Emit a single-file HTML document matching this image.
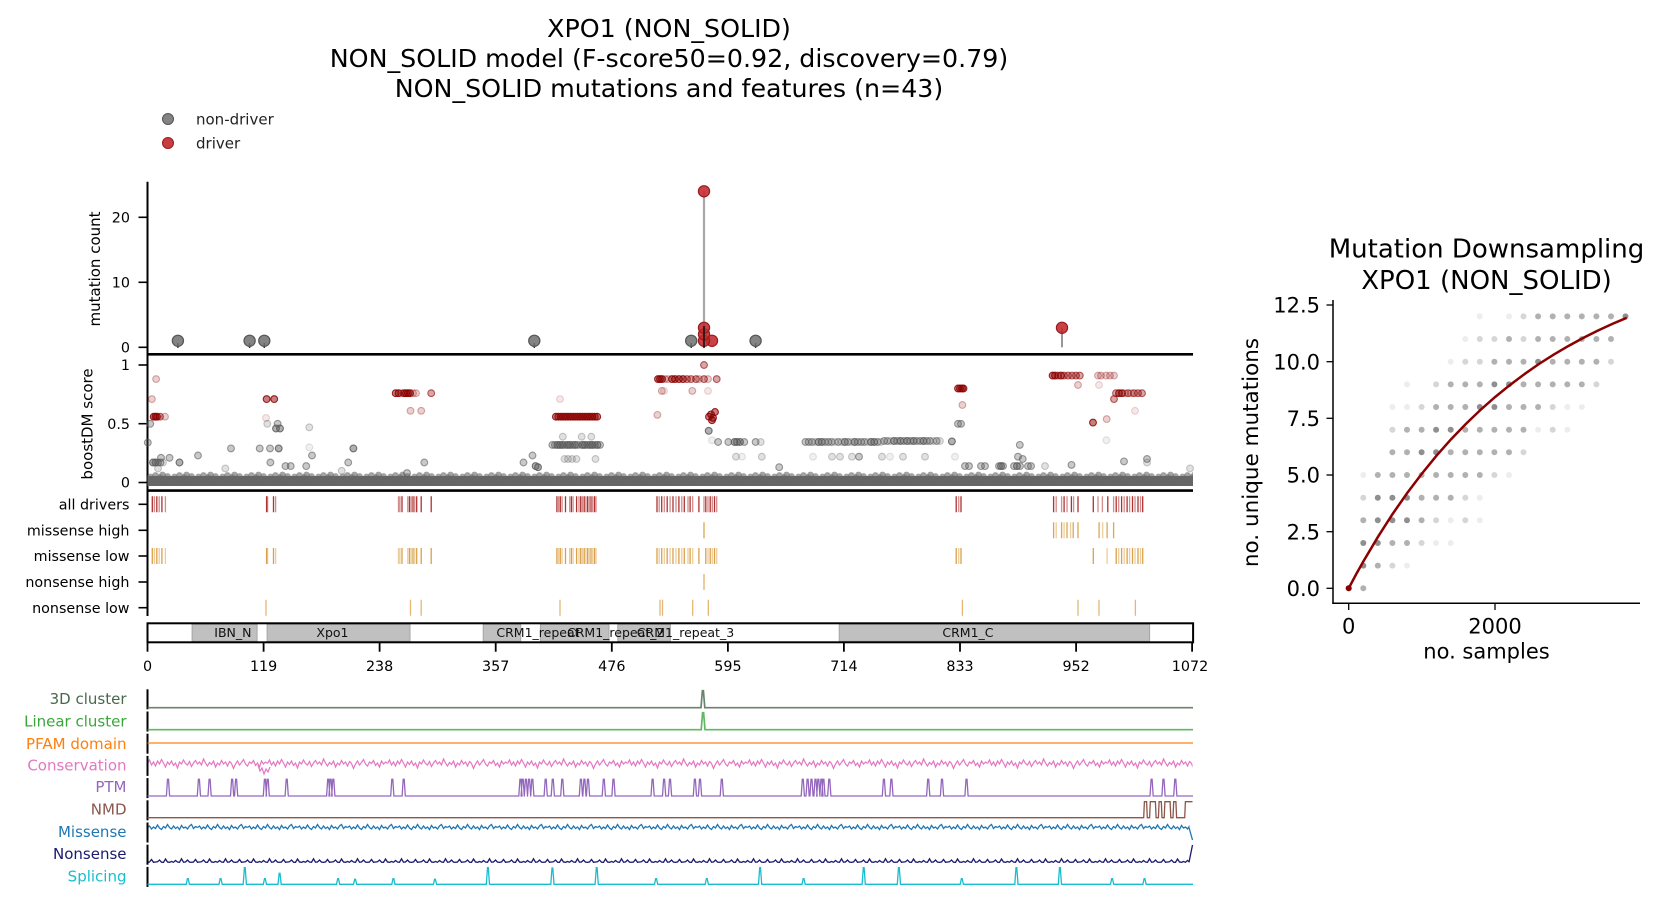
<!DOCTYPE html>
<html><head><meta charset="utf-8">
<style>
html,body{margin:0;padding:0;background:#fff;}
svg{display:block;font-family:"DejaVu Sans","Liberation Sans",sans-serif;}
.gd{fill:#5a5a5a;fill-opacity:.47;stroke:#5a5a5a;stroke-opacity:.85;stroke-width:1.1}
.gm{fill:#5a5a5a;fill-opacity:.33;stroke:#5a5a5a;stroke-opacity:.6;stroke-width:1.1}
.gl{fill:#5a5a5a;fill-opacity:.18;stroke:#5a5a5a;stroke-opacity:.32;stroke-width:1.1}
.gv{fill:#5a5a5a;fill-opacity:.09;stroke:#5a5a5a;stroke-opacity:.16;stroke-width:1.1}
.rd{fill:#8b0000;fill-opacity:.5;stroke:#8b0000;stroke-opacity:.85;stroke-width:1.1}
.rm{fill:#8b0000;fill-opacity:.35;stroke:#8b0000;stroke-opacity:.6;stroke-width:1.1}
.rl{fill:#8b0000;fill-opacity:.18;stroke:#8b0000;stroke-opacity:.32;stroke-width:1.1}
.rv{fill:#8b0000;fill-opacity:.09;stroke:#8b0000;stroke-opacity:.16;stroke-width:1.1}
.dd{fill:#333;fill-opacity:.55}
.dm{fill:#333;fill-opacity:.38}
.dl{fill:#333;fill-opacity:.2}
.dv{fill:#333;fill-opacity:.09}
</style></head>
<body>
<svg width="1659" height="906" viewBox="0 0 1659 906" xmlns="http://www.w3.org/2000/svg">
<defs>
<pattern id="pb" patternUnits="userSpaceOnUse" x="147.5" y="469" width="24" height="18">
<g fill="#666" fill-opacity="0.6">
<circle cx="3" cy="8" r="3.4"/><circle cx="5.5" cy="10.5" r="3.4"/><circle cx="8" cy="6.5" r="3.4"/><circle cx="10.5" cy="11" r="3.4"/><circle cx="12.5" cy="8.5" r="3.4"/><circle cx="15" cy="6" r="3.4"/><circle cx="17.5" cy="10" r="3.4"/><circle cx="20" cy="7.5" r="3.4"/><circle cx="21" cy="11.5" r="3.4"/><circle cx="4" cy="13" r="3.4"/><circle cx="12" cy="13" r="3.4"/><circle cx="19" cy="13" r="3.4"/>
</g>
</pattern>
<pattern id="pc" patternUnits="userSpaceOnUse" x="147.5" y="755" width="120" height="20">
<path d="M0,8.5L2,5L4,10L6,7L8,11L10,6L12,9L14,4.5L16,8L18,12L20,7L22,9.5L24,6L26,10.5L28,8L30,13L32,7L34,9L36,5L38,8.5L40,10L42,6.5L44,11.5L46,8L48,5.5L50,9L52,7L54,10L56,4L58,8L60,11L62,7.5L64,9.5L66,6L68,12L70,8L72,10L74,5.5L76,9L78,7L80,11L82,6.5L84,8.5L86,13.5L88,9L90,6L92,10L94,7.5L96,4.5L98,9L100,11L102,7L104,8.5L106,5.5L108,10.5L110,8L112,12L114,6L116,9L118,7L120,8.5" fill="none" stroke="#e377c2" stroke-width="1.2"/>
</pattern>
<pattern id="pm" patternUnits="userSpaceOnUse" x="147.5" y="820" width="50" height="14">
<path d="M0,7.5L2,6L4,9L6,7L8,8.5L10,5L12,8L14,9.5L16,6.5L18,8L20,4.5L22,7.5L24,9L26,6L28,8.5L30,7L32,9.5L34,5.5L36,8L38,7L40,9L42,6L44,4.5L46,8.5L48,6.5L50,7.5" fill="none" stroke="#1f77b4" stroke-width="1.3"/>
</pattern>
<pattern id="pn" patternUnits="userSpaceOnUse" x="147.5" y="852" width="44" height="14">
<path d="M0,10.3L2,10L4,7.5L6,10.3L8,10L10,9.8L12,8L14,10.2L16,10.3L18,7L20,10L22,10.3L24,9.5L26,10.3L28,8.5L30,10L32,10.3L34,6.8L36,10.2L38,10L40,8L42,10.1L44,10.3" fill="none" stroke="#191970" stroke-width="1.3"/>
</pattern>
</defs>
<rect width="1659" height="906" fill="#fff"/>
<!-- Title -->
<g font-size="25.3" text-anchor="middle" fill="#000">
<text x="669" y="37">XPO1 (NON_SOLID)</text>
<text x="669" y="67">NON_SOLID model (F-score50=0.92, discovery=0.79)</text>
<text x="669" y="97">NON_SOLID mutations and features (n=43)</text>
</g>
<!-- Legend -->
<circle cx="168" cy="119" r="5.5" fill="#6e6e6e" fill-opacity="0.85" stroke="#555" stroke-width="1"/>
<text x="196" y="124.5" font-size="15" fill="#222">non-driver</text>
<circle cx="168" cy="143" r="5.5" fill="#c0282d" fill-opacity="0.9" stroke="#9b1b1b" stroke-width="1"/>
<text x="196" y="148.5" font-size="15" fill="#222">driver</text>

<!-- Mutation count axes -->
<line x1="147.5" y1="181.7" x2="147.5" y2="355" stroke="#000" stroke-width="2"/>
<g stroke="#000" stroke-width="1.6">
<line x1="138.5" y1="217.3" x2="147.5" y2="217.3"/>
<line x1="138.5" y1="282.3" x2="147.5" y2="282.3"/>
<line x1="138.5" y1="347.3" x2="147.5" y2="347.3"/>
</g>
<g font-size="14.3" text-anchor="end" fill="#000">
<text x="130" y="222.5">20</text>
<text x="130" y="287.5">10</text>
<text x="130" y="352.5">0</text>
</g>
<text transform="translate(100,269) rotate(-90)" text-anchor="middle" font-size="15">mutation count</text>

<line x1="704" y1="347.3" x2="704" y2="191.3" stroke="#a8a8a8" stroke-width="2.2"/>
<line x1="1062" y1="347.3" x2="1062" y2="327.8" stroke="#999" stroke-width="2"/>
<g stroke="#333" stroke-width="1.5">
<line x1="177.9" y1="343" x2="177.9" y2="348"/>
<line x1="249.6" y1="343" x2="249.6" y2="348"/>
<line x1="264.3" y1="343" x2="264.3" y2="348"/>
<line x1="534.3" y1="343" x2="534.3" y2="348"/>
<line x1="691.2" y1="343" x2="691.2" y2="348"/>
<line x1="755.6" y1="343" x2="755.6" y2="348"/>
</g>
<g fill="#6e6e6e" fill-opacity="0.85" stroke="#555" stroke-width="1.2">
<circle cx="177.9" cy="340.8" r="5.6"/>
<circle cx="249.6" cy="340.8" r="5.6"/>
<circle cx="264.3" cy="340.8" r="5.6"/>
<circle cx="534.3" cy="340.8" r="5.6"/>
<circle cx="691.2" cy="340.8" r="5.6"/>
<circle cx="755.6" cy="340.8" r="5.6"/>
</g>
<g fill="#c0282d" fill-opacity="0.88" stroke="#9b1b1b" stroke-width="1.2">
<circle cx="704" cy="191.3" r="5.6"/>
<circle cx="712" cy="340.8" r="5.6"/>
<circle cx="704" cy="340.8" r="5.6"/>
<circle cx="704" cy="334.3" r="5.6"/>
<circle cx="704" cy="327.8" r="5.6"/>
<circle cx="1062" cy="327.8" r="5.6"/>
</g>
<line x1="704" y1="326" x2="704" y2="348" stroke="#111" stroke-width="2" stroke-opacity="0.75"/>

<!-- boostDM axes -->
<line x1="147.5" y1="354" x2="147.5" y2="491" stroke="#000" stroke-width="2"/>
<g stroke="#000" stroke-width="1.6">
<line x1="138.5" y1="365" x2="147.5" y2="365"/>
<line x1="138.5" y1="423.7" x2="147.5" y2="423.7"/>
<line x1="138.5" y1="482.5" x2="147.5" y2="482.5"/>
</g>
<g font-size="14.3" text-anchor="end" fill="#000">
<text x="130" y="370.2">1</text>
<text x="130" y="428.9">0.5</text>
<text x="130" y="487.7">0</text>
</g>
<text transform="translate(92.7,424) rotate(-90)" text-anchor="middle" font-size="15">boostDM score</text>

<!-- base band -->
<rect x="147.5" y="476" width="1045.5" height="10" fill="#666"/>
<rect x="147.5" y="469" width="1045.5" height="18" fill="url(#pb)"/>

<!-- gray scattered -->
<circle class="gm" cx="150.2" cy="423.8" r="3.4"/><circle class="gm" cx="147.8" cy="442.6" r="3.4"/>
<circle class="gd" cx="153" cy="462.5" r="3.4"/><circle class="gd" cx="155.5" cy="462.5" r="3.4"/><circle class="gm" cx="158" cy="462.5" r="3.4"/><circle class="gm" cx="160.5" cy="462.5" r="3.4"/><circle class="gl" cx="163" cy="462.5" r="3.4"/>
<circle class="gm" cx="161" cy="457.8" r="3.4"/><circle class="gm" cx="169.5" cy="457.8" r="3.4"/><circle class="gd" cx="179.5" cy="462.5" r="3.4"/><circle class="gl" cx="158" cy="468.4" r="3.4"/>
<circle class="gm" cx="198" cy="455.5" r="3.4"/><circle class="gm" cx="231" cy="448.4" r="3.4"/><circle class="gl" cx="225.3" cy="468.4" r="3.4"/><circle class="gm" cx="259.7" cy="448.4" r="3.4"/>
<circle class="gl" cx="267.3" cy="423.8" r="3.4"/><circle class="gm" cx="277.6" cy="423.8" r="3.4"/><circle class="gd" cx="276" cy="428.5" r="3.4"/><circle class="gd" cx="280" cy="428.5" r="3.4"/>
<circle class="gm" cx="270" cy="448.4" r="3.4"/><circle class="gd" cx="278.7" cy="448.4" r="3.4"/><circle class="gm" cx="270.4" cy="462.5" r="3.4"/><circle class="gm" cx="285.5" cy="466.1" r="3.4"/><circle class="gm" cx="290.7" cy="466.1" r="3.4"/>
<circle class="gl" cx="309.3" cy="427.3" r="3.4"/><circle class="gv" cx="309.3" cy="447.3" r="3.4"/><circle class="gm" cx="312" cy="455.5" r="3.4"/><circle class="gm" cx="306.2" cy="466.1" r="3.4"/>
<circle class="gm" cx="348.2" cy="462.5" r="3.4"/><circle class="gd" cx="353.4" cy="448.4" r="3.4"/><circle class="gl" cx="341.7" cy="470.8" r="3.4"/><circle class="gm" cx="407" cy="473.1" r="3.4"/><circle class="gm" cx="424.3" cy="462.5" r="3.4"/>
<circle class="gm" cx="523.5" cy="462.5" r="3.4"/><circle class="gm" cx="532.5" cy="455.5" r="3.4"/><circle class="gd" cx="535.6" cy="466.1" r="3.4"/><circle class="gd" cx="538" cy="467.2" r="3.4"/>
<circle class="gl" cx="562.8" cy="436.7" r="3.4"/><circle class="gl" cx="581.7" cy="436.7" r="3.4"/><circle class="gl" cx="591.3" cy="436.7" r="3.4"/>
<circle class="gl" cx="564.5" cy="459" r="3.4"/><circle class="gl" cx="568" cy="459" r="3.4"/><circle class="gl" cx="572" cy="459" r="3.4"/><circle class="gl" cx="576.5" cy="459" r="3.4"/><circle class="gl" cx="595.5" cy="459" r="3.4"/>
<circle class="gm" cx="552.4" cy="444.9" r="3.4"/><circle class="gm" cx="554.9" cy="444.9" r="3.4"/><circle class="gd" cx="557.4" cy="444.9" r="3.4"/><circle class="gd" cx="559.9" cy="444.9" r="3.4"/><circle class="gd" cx="562.4" cy="444.9" r="3.4"/><circle class="gm" cx="564.9" cy="444.9" r="3.4"/><circle class="gd" cx="567.4" cy="444.9" r="3.4"/><circle class="gd" cx="569.9" cy="444.9" r="3.4"/><circle class="gm" cx="572.4" cy="444.9" r="3.4"/><circle class="gd" cx="574.9" cy="444.9" r="3.4"/><circle class="gm" cx="577.4" cy="444.9" r="3.4"/><circle class="gl" cx="579.9" cy="444.9" r="3.4"/><circle class="gd" cx="582.4" cy="444.9" r="3.4"/><circle class="gd" cx="584.9" cy="444.9" r="3.4"/><circle class="gm" cx="587.4" cy="444.9" r="3.4"/><circle class="gd" cx="589.9" cy="444.9" r="3.4"/><circle class="gd" cx="592.4" cy="444.9" r="3.4"/><circle class="gm" cx="594.9" cy="444.9" r="3.4"/><circle class="gd" cx="597.4" cy="444.9" r="3.4"/><circle class="gm" cx="600" cy="444.9" r="3.4"/>
<circle class="gd" cx="708.7" cy="430.8" r="3.4"/><circle class="gv" cx="712" cy="440.2" r="3.4"/>
<circle class="gm" cx="718.1" cy="442" r="3.4"/><circle class="gm" cx="728.3" cy="442" r="3.4"/><circle class="gd" cx="734.5" cy="442" r="3.4"/><circle class="gd" cx="737" cy="442" r="3.4"/><circle class="gd" cx="740" cy="442" r="3.4"/><circle class="gm" cx="744.3" cy="442" r="3.4"/><circle class="gm" cx="755.6" cy="442" r="3.4"/><circle class="gl" cx="760.7" cy="442" r="3.4"/>
<circle class="gl" cx="736" cy="456.7" r="3.4"/><circle class="gv" cx="742" cy="456.7" r="3.4"/><circle class="gl" cx="761.8" cy="456.7" r="3.4"/><circle class="gm" cx="779.2" cy="467.2" r="3.4"/>
<circle class="gv" cx="813" cy="456.7" r="3.4"/><circle class="gl" cx="832" cy="456.7" r="3.4"/><circle class="gl" cx="840" cy="456.7" r="3.4"/><circle class="gl" cx="852" cy="456.7" r="3.4"/><circle class="gm" cx="859" cy="456.7" r="3.4"/><circle class="gl" cx="882" cy="456.7" r="3.4"/><circle class="gv" cx="890" cy="456.7" r="3.4"/><circle class="gl" cx="903" cy="456.7" r="3.4"/><circle class="gl" cx="925" cy="456.7" r="3.4"/>
<circle class="gm" cx="805.4" cy="442" r="3.4"/><circle class="gm" cx="808.7" cy="442" r="3.4"/><circle class="gm" cx="812" cy="442" r="3.4"/><circle class="gl" cx="815.2" cy="442" r="3.4"/><circle class="gd" cx="818.5" cy="442" r="3.4"/><circle class="gd" cx="821.8" cy="442" r="3.4"/><circle class="gm" cx="825.1" cy="442" r="3.4"/><circle class="gm" cx="828.4" cy="442" r="3.4"/><circle class="gm" cx="831.6" cy="442" r="3.4"/><circle class="gl" cx="834.9" cy="442" r="3.4"/><circle class="gm" cx="838.2" cy="442" r="3.4"/><circle class="gl" cx="841.5" cy="442" r="3.4"/><circle class="gd" cx="844.8" cy="442" r="3.4"/><circle class="gm" cx="848" cy="442" r="3.4"/><circle class="gl" cx="851.3" cy="442" r="3.4"/><circle class="gd" cx="854.6" cy="442" r="3.4"/><circle class="gm" cx="857.9" cy="442" r="3.4"/><circle class="gm" cx="861.2" cy="442" r="3.4"/><circle class="gm" cx="864.4" cy="442" r="3.4"/><circle class="gl" cx="867.7" cy="442" r="3.4"/><circle class="gd" cx="871" cy="442" r="3.4"/><circle class="gd" cx="874.3" cy="442" r="3.4"/><circle class="gm" cx="877.6" cy="442" r="3.4"/><circle class="gl" cx="880.8" cy="442" r="3.4"/><circle class="gm" cx="884.1" cy="441" r="3.4"/><circle class="gm" cx="887.4" cy="441" r="3.4"/><circle class="gl" cx="890.7" cy="441" r="3.4"/><circle class="gd" cx="894" cy="441" r="3.4"/><circle class="gm" cx="897.2" cy="441" r="3.4"/><circle class="gd" cx="900.5" cy="441" r="3.4"/><circle class="gm" cx="903.8" cy="441" r="3.4"/><circle class="gd" cx="907.1" cy="441" r="3.4"/><circle class="gm" cx="910.4" cy="441" r="3.4"/><circle class="gd" cx="913.6" cy="441" r="3.4"/><circle class="gm" cx="916.9" cy="441" r="3.4"/><circle class="gm" cx="920.2" cy="441" r="3.4"/><circle class="gd" cx="923.5" cy="441" r="3.4"/><circle class="gm" cx="926.8" cy="441" r="3.4"/><circle class="gm" cx="930" cy="441" r="3.4"/><circle class="gl" cx="933.3" cy="441" r="3.4"/><circle class="gm" cx="936.6" cy="441" r="3.4"/><circle class="gl" cx="939.9" cy="441" r="3.4"/>
<circle class="gd" cx="951.9" cy="441.4" r="3.4"/><circle class="gm" cx="958" cy="423.8" r="3.4"/><circle class="gm" cx="961" cy="423.8" r="3.4"/><circle class="gv" cx="955" cy="456.7" r="3.4"/>
<circle class="gm" cx="965" cy="466.1" r="3.4"/><circle class="gm" cx="969" cy="466.1" r="3.4"/><circle class="gm" cx="981" cy="466.1" r="3.4"/><circle class="gm" cx="985" cy="466.1" r="3.4"/><circle class="gm" cx="999" cy="466.1" r="3.4"/><circle class="gd" cx="1001" cy="466.1" r="3.4"/><circle class="gm" cx="1003" cy="466.1" r="3.4"/><circle class="gm" cx="1014" cy="466.1" r="3.4"/><circle class="gd" cx="1017" cy="466.1" r="3.4"/><circle class="gm" cx="1020" cy="466.1" r="3.4"/><circle class="gm" cx="1028" cy="466.1" r="3.4"/><circle class="gm" cx="1031" cy="466.1" r="3.4"/><circle class="gl" cx="1045" cy="466.1" r="3.4"/>
<circle class="gm" cx="1019.8" cy="444.9" r="3.4"/><circle class="gm" cx="1018" cy="456.7" r="3.4"/><circle class="gm" cx="1022.7" cy="459" r="3.4"/><circle class="gm" cx="1071.5" cy="464.9" r="3.4"/><circle class="gm" cx="1124" cy="461.4" r="3.4"/><circle class="gm" cx="1147" cy="459" r="3.4"/><circle class="gl" cx="1147" cy="462.5" r="3.4"/><circle class="gv" cx="1106.4" cy="440.2" r="3.4"/><circle class="gl" cx="1190" cy="468.4" r="3.4"/>

<!-- red boost points -->
<circle class="rl" cx="156.1" cy="379.1" r="3.4"/><circle class="rl" cx="151.9" cy="399.1" r="3.4"/>
<circle class="rd" cx="153.7" cy="416.7" r="3.4"/><circle class="rd" cx="155.5" cy="416.7" r="3.4"/><circle class="rd" cx="157" cy="416.7" r="3.4"/><circle class="rm" cx="160" cy="416.7" r="3.4"/><circle class="rl" cx="165" cy="416.7" r="3.4"/>
<circle class="rd" cx="266.6" cy="399.1" r="3.4"/><circle class="rd" cx="274.2" cy="399.1" r="3.4"/><circle class="rv" cx="266" cy="417.9" r="3.4"/>
<circle class="rd" cx="395.7" cy="393.2" r="3.4"/><circle class="rd" cx="398.5" cy="393.2" r="3.4"/><circle class="rl" cx="401" cy="393.2" r="3.4"/><circle class="rd" cx="404" cy="393.2" r="3.4"/><circle class="rd" cx="406" cy="393.2" r="3.4"/><circle class="rd" cx="408" cy="393.2" r="3.4"/><circle class="rd" cx="410" cy="393.2" r="3.4"/><circle class="rl" cx="413" cy="393.2" r="3.4"/><circle class="rl" cx="416" cy="393.2" r="3.4"/><circle class="rm" cx="431.2" cy="393.2" r="3.4"/>
<circle class="rl" cx="410.5" cy="410.8" r="3.4"/><circle class="rl" cx="421.2" cy="410.8" r="3.4"/><circle class="rv" cx="560" cy="399.1" r="3.4"/>
<circle class="rd" cx="555.9" cy="416.7" r="3.4"/><circle class="rd" cx="558.3" cy="416.7" r="3.4"/><circle class="rd" cx="560.8" cy="416.7" r="3.4"/><circle class="rd" cx="563.2" cy="416.7" r="3.4"/><circle class="rd" cx="565.6" cy="416.7" r="3.4"/><circle class="rd" cx="568" cy="416.7" r="3.4"/><circle class="rd" cx="570.5" cy="416.7" r="3.4"/><circle class="rd" cx="572.9" cy="416.7" r="3.4"/><circle class="rd" cx="575.3" cy="416.7" r="3.4"/><circle class="rd" cx="577.8" cy="416.7" r="3.4"/><circle class="rd" cx="580.2" cy="416.7" r="3.4"/><circle class="rd" cx="582.6" cy="416.7" r="3.4"/><circle class="rd" cx="585.1" cy="416.7" r="3.4"/><circle class="rd" cx="587.5" cy="416.7" r="3.4"/><circle class="rd" cx="589.9" cy="416.7" r="3.4"/><circle class="rd" cx="592.3" cy="416.7" r="3.4"/><circle class="rd" cx="594.8" cy="416.7" r="3.4"/><circle class="rd" cx="597.2" cy="416.7" r="3.4"/>
<circle class="rl" cx="657.4" cy="414.9" r="3.4"/>
<circle class="rd" cx="658" cy="379.1" r="3.4"/><circle class="rd" cx="660" cy="379.1" r="3.4"/><circle class="rd" cx="662" cy="379.1" r="3.4"/><circle class="rl" cx="665" cy="379.1" r="3.4"/><circle class="rl" cx="668" cy="379.1" r="3.4"/><circle class="rd" cx="672" cy="379.1" r="3.4"/><circle class="rd" cx="675" cy="379.1" r="3.4"/><circle class="rd" cx="679" cy="379.1" r="3.4"/><circle class="rd" cx="683" cy="379.1" r="3.4"/><circle class="rm" cx="687" cy="379.1" r="3.4"/><circle class="rm" cx="691" cy="379.1" r="3.4"/><circle class="rm" cx="696" cy="379.1" r="3.4"/><circle class="rl" cx="699" cy="379.1" r="3.4"/><circle class="rm" cx="704" cy="379.1" r="3.4"/><circle class="rl" cx="708" cy="379.1" r="3.4"/><circle class="rm" cx="716.7" cy="379.1" r="3.4"/>
<circle class="rl" cx="661.8" cy="390.9" r="3.4"/><circle class="rv" cx="664" cy="390.9" r="3.4"/><circle class="rl" cx="692.3" cy="390.9" r="3.4"/><circle class="rv" cx="708" cy="390.9" r="3.4"/><circle class="rm" cx="704" cy="365" r="3.4"/>
<circle class="rd" cx="709" cy="416.7" r="3.4"/><circle class="rd" cx="711" cy="414.4" r="3.4"/><circle class="rd" cx="713" cy="417.9" r="3.4"/><circle class="rd" cx="715" cy="412" r="3.4"/><circle class="rd" cx="712" cy="420.2" r="3.4"/>
<circle class="rd" cx="958" cy="388.5" r="3.4"/><circle class="rd" cx="960" cy="388.5" r="3.4"/><circle class="rd" cx="962" cy="388.5" r="3.4"/><circle class="rd" cx="963.5" cy="388.5" r="3.4"/><circle class="rl" cx="962.4" cy="405" r="3.4"/>
<circle class="rd" cx="1052.6" cy="375.6" r="3.4"/><circle class="rd" cx="1055" cy="375.6" r="3.4"/><circle class="rm" cx="1058" cy="375.6" r="3.4"/><circle class="rd" cx="1061" cy="375.6" r="3.4"/><circle class="rm" cx="1064" cy="375.6" r="3.4"/><circle class="rm" cx="1068" cy="375.6" r="3.4"/><circle class="rm" cx="1072" cy="375.6" r="3.4"/><circle class="rm" cx="1076" cy="375.6" r="3.4"/><circle class="rm" cx="1079.8" cy="375.6" r="3.4"/><circle class="rl" cx="1078" cy="385" r="3.4"/>
<circle class="rl" cx="1098" cy="375.6" r="3.4"/><circle class="rl" cx="1101" cy="375.6" r="3.4"/><circle class="rl" cx="1106" cy="375.6" r="3.4"/><circle class="rl" cx="1110" cy="375.6" r="3.4"/><circle class="rl" cx="1114" cy="375.6" r="3.4"/><circle class="rv" cx="1099" cy="385" r="3.4"/>
<circle class="rm" cx="1116" cy="393.2" r="3.4"/><circle class="rd" cx="1119" cy="393.2" r="3.4"/><circle class="rd" cx="1122" cy="393.2" r="3.4"/><circle class="rl" cx="1125" cy="393.2" r="3.4"/><circle class="rm" cx="1128" cy="393.2" r="3.4"/><circle class="rl" cx="1131" cy="393.2" r="3.4"/><circle class="rm" cx="1134" cy="393.2" r="3.4"/><circle class="rm" cx="1138" cy="393.2" r="3.4"/><circle class="rm" cx="1142" cy="393.2" r="3.4"/>
<circle class="rm" cx="1114" cy="399.1" r="3.4"/><circle class="rd" cx="1093" cy="422.6" r="3.4"/><circle class="rl" cx="1106.7" cy="419.1" r="3.4"/><circle class="rv" cx="1135" cy="410.8" r="3.4"/>

<!-- separators -->
<line x1="147.5" y1="354.3" x2="1193" y2="354.3" stroke="#000" stroke-width="2.6"/>
<line x1="147.5" y1="490.6" x2="1193" y2="490.6" stroke="#000" stroke-width="2.6"/>

<!-- tracks axes -->
<line x1="147.5" y1="490" x2="147.5" y2="616" stroke="#000" stroke-width="2"/>
<g stroke="#000" stroke-width="1.6">
<line x1="138.5" y1="504.3" x2="147.5" y2="504.3"/>
<line x1="138.5" y1="530.3" x2="147.5" y2="530.3"/>
<line x1="138.5" y1="556" x2="147.5" y2="556"/>
<line x1="138.5" y1="582" x2="147.5" y2="582"/>
<line x1="138.5" y1="607.7" x2="147.5" y2="607.7"/>
</g>
<g font-size="14.3" text-anchor="end" fill="#000">
<text x="129.5" y="509.5">all drivers</text>
<text x="129.5" y="535.5">missense high</text>
<text x="129.5" y="561.2">missense low</text>
<text x="129.5" y="587.2">nonsense high</text>
<text x="129.5" y="612.9">nonsense low</text>
</g>
<!-- bars -->
<path stroke="#a51c1c" stroke-opacity="0.9" stroke-width="1.3" fill="none" d="M152.3,496.3v16M156.8,496.3v16M161.9,496.3v16M266.6,496.3v16M273.5,496.3v16M402,496.3v16M409.5,496.3v16M413,496.3v16M416.7,496.3v16M421.2,496.3v16M431.2,496.3v16M556.9,496.3v16M560.3,496.3v16M565.5,496.3v16M571.4,496.3v16M576.6,496.3v16M580.7,496.3v16M584.2,496.3v16M587.6,496.3v16M591,496.3v16M594.5,496.3v16M657,496.3v16M661.7,496.3v16M667.2,496.3v16M673,496.3v16M678.9,496.3v16M684.3,496.3v16M690.1,496.3v16M698.9,496.3v16M705.8,496.3v16M710.2,496.3v16M714.5,496.3v16M956.2,496.3v16M961,496.3v16M1053.6,496.3v16M1064.1,496.3v16M1071.4,496.3v16M1078,496.3v16M1093.3,496.3v16M1107.8,496.3v16M1116.2,496.3v16M1121.6,496.3v16M1127.1,496.3v16M1132.5,496.3v16M1138,496.3v16M1142.7,496.3v16"/>
<path stroke="#a51c1c" stroke-opacity="0.5" stroke-width="1.3" fill="none" d="M154.4,496.3v16M159.2,496.3v16M165.4,496.3v16M267.6,496.3v16M275.6,496.3v16M398.5,496.3v16M399.9,496.3v16M407.8,496.3v16M411.2,496.3v16M414.7,496.3v16M558.6,496.3v16M562.1,496.3v16M569.7,496.3v16M573.1,496.3v16M579,496.3v16M582.4,496.3v16M585.9,496.3v16M589.3,496.3v16M592.7,496.3v16M596,496.3v16M659.2,496.3v16M664.3,496.3v16M670.1,496.3v16M676,496.3v16M681.8,496.3v16M688,496.3v16M692.7,496.3v16M704,496.3v16M708,496.3v16M712.3,496.3v16M716.7,496.3v16M958.7,496.3v16M1056.2,496.3v16M1061.6,496.3v16M1067,496.3v16M1073.6,496.3v16M1098,496.3v16M1102.4,496.3v16M1113.6,496.3v16M1118.7,496.3v16M1124.2,496.3v16M1129.6,496.3v16M1135,496.3v16M1140.5,496.3v16"/>
<path stroke="#d4902a" stroke-opacity="0.8" stroke-width="1.3" fill="none" d="M704,522.3v16M1053.6,522.3v16M1061.6,522.3v16M1067,522.3v16M1073.2,522.3v16M1078,522.3v16M1099.1,522.3v16M1107.1,522.3v16M1113.6,522.3v16"/>
<path stroke="#d4902a" stroke-opacity="0.45" stroke-width="1.3" fill="none" d="M1056.2,522.3v16M1064.1,522.3v16M1070.6,522.3v16M1102.7,522.3v16"/>
<path stroke="#d4902a" stroke-opacity="0.85" stroke-width="1.3" fill="none" d="M152.3,548v16M156.8,548v16M161.9,548v16M266.6,548v16M273.5,548v16M402,548v16M409.5,548v16M413,548v16M416.7,548v16M421.2,548v16M431.2,548v16M556.9,548v16M560.3,548v16M565.5,548v16M571.4,548v16M576.6,548v16M580.7,548v16M584.2,548v16M587.6,548v16M591,548v16M594.5,548v16M657,548v16M661.7,548v16M667.2,548v16M673,548v16M678.9,548v16M684.3,548v16M690.1,548v16M698.9,548v16M705.8,548v16M710.2,548v16M714.5,548v16M956.2,548v16M961,548v16M1093.3,548v16M1116.2,548v16M1121.6,548v16M1127.1,548v16M1132.5,548v16M1138,548v16M1142.7,548v16"/>
<path stroke="#d4902a" stroke-opacity="0.45" stroke-width="1.3" fill="none" d="M154.4,548v16M159.2,548v16M165.4,548v16M267.6,548v16M275.6,548v16M398.5,548v16M399.9,548v16M407.8,548v16M411.2,548v16M414.7,548v16M558.6,548v16M562.1,548v16M569.7,548v16M573.1,548v16M579,548v16M582.4,548v16M585.9,548v16M589.3,548v16M592.7,548v16M596,548v16M659.2,548v16M664.3,548v16M670.1,548v16M676,548v16M681.8,548v16M688,548v16M692.7,548v16M708,548v16M712.3,548v16M716.7,548v16M958.7,548v16M1107.1,548v16M1118.7,548v16M1124.2,548v16M1129.6,548v16M1135,548v16M1140.5,548v16"/>
<path stroke="#d4902a" stroke-opacity="0.7" stroke-width="1.3" fill="none" d="M704,574v16"/>
<path stroke="#d4902a" stroke-opacity="0.65" stroke-width="1.3" fill="none" d="M266,599.7v16M410.5,599.7v16M421.2,599.7v16M560,599.7v16M660,599.7v16M662.5,599.7v16M692.7,599.7v16M708.3,599.7v16M962.4,599.7v16M1078,599.7v16M1099,599.7v16M1135.4,599.7v16"/>

<!-- domain box -->
<rect x="147.5" y="623.3" width="1045.6" height="19" fill="#fff" stroke="none"/>
<g fill="#c0c0c0" stroke="#a6a6a6" stroke-width="1">
<rect x="192.1" y="624.3" width="65" height="17"/>
<rect x="267.1" y="624.3" width="142.9" height="17"/>
<rect x="483.2" y="624.3" width="37.5" height="17"/>
<rect x="540.4" y="624.3" width="68.6" height="17"/>
<rect x="617.8" y="624.3" width="52.6" height="17"/>
<rect x="839.2" y="624.3" width="310.4" height="17"/>
</g>
<rect x="147.5" y="623.3" width="1045.6" height="19" fill="none" stroke="#000" stroke-width="2"/>
<g font-size="12.5" fill="#111">
<text x="214.3" y="637">IBN_N</text>
<text x="316.4" y="637">Xpo1</text>
<text x="496.4" y="637">CRM1_repeat</text>
<text x="567" y="637">CRM1_repeat_2</text>
<text x="636.8" y="637">CRM1_repeat_3</text>
<text x="942.4" y="637">CRM1_C</text>
</g>
<g stroke="#000" stroke-width="1.8">
<line x1="147.5" y1="642" x2="147.5" y2="651.7"/>
<line x1="263.6" y1="642" x2="263.6" y2="651.7"/>
<line x1="379.6" y1="642" x2="379.6" y2="651.7"/>
<line x1="495.7" y1="642" x2="495.7" y2="651.7"/>
<line x1="611.8" y1="642" x2="611.8" y2="651.7"/>
<line x1="727.9" y1="642" x2="727.9" y2="651.7"/>
<line x1="843.9" y1="642" x2="843.9" y2="651.7"/>
<line x1="960" y1="642" x2="960" y2="651.7"/>
<line x1="1076.1" y1="642" x2="1076.1" y2="651.7"/>
<line x1="1192.1" y1="642" x2="1192.1" y2="651.7"/>
</g>
<g font-size="14.3" text-anchor="middle" fill="#000">
<text x="147.5" y="671">0</text>
<text x="263.6" y="671">119</text>
<text x="379.6" y="671">238</text>
<text x="495.7" y="671">357</text>
<text x="611.8" y="671">476</text>
<text x="727.9" y="671">595</text>
<text x="843.9" y="671">714</text>
<text x="960" y="671">833</text>
<text x="1076.1" y="671">952</text>
<text x="1190" y="671">1072</text>
</g>

<!-- feature tracks -->
<g font-size="15" text-anchor="end">
<text x="126.5" y="703.8" fill="#4a684c">3D cluster</text>
<text x="126.5" y="726.5" fill="#3aa63a">Linear cluster</text>
<text x="126.5" y="748.8" fill="#ff7f0e">PFAM domain</text>
<text x="126.5" y="770.5" fill="#e377c2">Conservation</text>
<text x="126.5" y="792.2" fill="#9467bd">PTM</text>
<text x="126.5" y="814.5" fill="#8c564b">NMD</text>
<text x="126.5" y="837.2" fill="#1f77b4">Missense</text>
<text x="126.5" y="858.8" fill="#191970">Nonsense</text>
<text x="126.5" y="881.5" fill="#17becf">Splicing</text>
</g>
<g stroke="#000" stroke-width="2">
<line x1="147.5" y1="689.3" x2="147.5" y2="709.3"/>
<line x1="147.5" y1="711.5" x2="147.5" y2="731.5"/>
<line x1="147.5" y1="733.7" x2="147.5" y2="753.7"/>
<line x1="147.5" y1="755.9" x2="147.5" y2="775.9"/>
<line x1="147.5" y1="778.1" x2="147.5" y2="798.1"/>
<line x1="147.5" y1="800.3" x2="147.5" y2="820.3"/>
<line x1="147.5" y1="822.5" x2="147.5" y2="842.5"/>
<line x1="147.5" y1="844.7" x2="147.5" y2="864.7"/>
<line x1="147.5" y1="866.9" x2="147.5" y2="886.9"/>
</g>
<path d="M147.5,707.7 L701,707.7 L702.4,690.7 L703.4,690.7 L704.8,707.7 L1193,707.7" fill="none" stroke="#4f6f52" stroke-opacity="0.85" stroke-width="1.7"/>
<path d="M147.5,729.7 L701.2,729.7 L702.6,712.7 L703.6,712.7 L705,729.7 L1193,729.7" fill="none" stroke="#2ca02c" stroke-opacity="0.75" stroke-width="1.7"/>
<line x1="147.5" y1="743" x2="1193" y2="743" stroke="#ff7f0e" stroke-opacity="0.8" stroke-width="1.6"/>
<!-- conservation -->
<rect x="148.5" y="755" width="1044" height="20" fill="url(#pc)"/>
<path d="M258,765L260,771L262,768L264,774L266,769L268,772L270,767" fill="none" stroke="#e377c2" stroke-width="1.2"/>
<!-- PTM -->
<path fill="none" stroke="#9467bd" stroke-width="1.3" d="M147.5,796L166.4,796l1.1-16.7h1l1.1,16.7L197.3,796l1.1-16.7h1l1.1,16.7L208,796l1.1-16.7h1l1.1,16.7L230.5,796l1.1-16.7h1l1.1,16.7L234.5,796l1.1-16.7h1l1.1,16.7L263.3,796l1.1-16.7h1l1.1,16.7L266.1,796l1.1-16.7h1l1.1,16.7L285.1,796l1.1-16.7h1l1.1,16.7L326.6,796l1.1-16.7h1l1.1,16.7L329,796l1.1-16.7h1l1.1,16.7L331.7,796l1.1-16.7h1l1.1,16.7L390.7,796l1.1-16.7h1l1.1,16.7L402.1,796l1.1-16.7h1l1.1,16.7L518.8,796l1.1-16.7h1l1.1,16.7L521.1,796l1.1-16.7h1l1.1,16.7L524.3,796l1.1-16.7h1l1.1,16.7L527.5,796l1.1-16.7h1l1.1,16.7L530.7,796l1.1-16.7h1l1.1,16.7L544.1,796l1.1-16.7h1l1.1,16.7L551.2,796l1.1-16.7h1l1.1,16.7L560.7,796l1.1-16.7h1l1.1,16.7L579.3,796l1.1-16.7h1l1.1,16.7L582.8,796l1.1-16.7h1l1.1,16.7L586.4,796l1.1-16.7h1l1.1,16.7L602.2,796l1.1-16.7h1l1.1,16.7L611.9,796l1.1-16.7h1l1.1,16.7L651,796l1.1-16.7h1l1.1,16.7L662.5,796l1.1-16.7h1l1.1,16.7L668.4,796l1.1-16.7h1l1.1,16.7L693.3,796l1.1-16.7h1l1.1,16.7L698.4,796l1.1-16.7h1l1.1,16.7L720.2,796l1.1-16.7h1l1.1,16.7L801.2,796l1.1-16.7h1l1.1,16.7L806,796l1.1-16.7h1l1.1,16.7L809.9,796l1.1-16.7h1l1.1,16.7L813.9,796l1.1-16.7h1l1.1,16.7L816.7,796l1.1-16.7h1l1.1,16.7L819.8,796l1.1-16.7h1l1.1,16.7L821.8,796l1.1-16.7h1l1.1,16.7L827.7,796l1.1-16.7h1l1.1,16.7L882.3,796l1.1-16.7h1l1.1,16.7L889.8,796l1.1-16.7h1l1.1,16.7L926.6,796l1.1-16.7h1l1.1,16.7L940.4,796l1.1-16.7h1l1.1,16.7L964.9,796l1.1-16.7h1l1.1,16.7L1150,796l1.1-16.7h1l1.1,16.7L1161.9,796l1.1-16.7h1l1.1,16.7L1173.7,796l1.1-16.7h1l1.1,16.7L1193,796"/>
<!-- NMD -->
<path fill="none" stroke="#8c564b" stroke-width="1.3" d="M147.5,817.7H1143.7L1144.4,801.7H1146.6L1147.3,817.7H1149.6L1150.3,801.7H1155.4L1156.1,817.7H1158.4L1159.1,801.7H1161.3L1162,817.7H1164.2L1164.9,801.7H1170.1L1170.8,817.7H1173L1173.7,801.7H1175.9L1176.6,817.7H1184.7L1185.4,801.7H1192.5"/>
<!-- Missense -->
<rect x="148.5" y="820" width="1041" height="14" fill="url(#pm)"/>
<path d="M1189,827.5L1192.5,840" fill="none" stroke="#1f77b4" stroke-width="1.3"/>
<!-- Nonsense -->
<rect x="148.5" y="852" width="1041" height="14" fill="url(#pn)"/>
<path d="M1189,862.3L1192.5,845" fill="none" stroke="#191970" stroke-width="1.3"/>
<!-- Splicing -->
<path fill="none" stroke="#17becf" stroke-width="1.3" d="M147.5,884.3L186.2,884.3l1.2-5.7h0.8l1.2,5.7L219,884.3l1.2-5.7h0.8l1.2,5.7L243.2,884.3l1.2-16.7h0.8l1.2,16.7L263.3,884.3l1.2-5.7h0.8l1.2,5.7L278,884.3l1.2-11h0.8l1.2,11L336.5,884.3l1.2-5.7h0.8l1.2,5.7L353.5,884.3l1.2-5h0.8l1.2,5L391.8,884.3l1.2-5.7h0.8l1.2,5.7L433.4,884.3l1.2-5h0.8l1.2,5L486.3,884.3l1.2-16.7h0.8l1.2,16.7L550.8,884.3l1.2-16.3h0.8l1.2,16.3L595.1,884.3l1.2-16.7h0.8l1.2,16.7L654.5,884.3l1.2-5.7h0.8l1.2,5.7L705.2,884.3l1.2-5.7h0.8l1.2,5.7L758.5,884.3l1.2-16.7h0.8l1.2,16.7L802,884.3l1.2-5.7h0.8l1.2,5.7L862.1,884.3l1.2-16.7h0.8l1.2,16.7L897.3,884.3l1.2-16.7h0.8l1.2,16.7L960.2,884.3l1.2-5.7h0.8l1.2,5.7L1014.8,884.3l1.2-16.7h0.8l1.2,16.7L1058.3,884.3l1.2-16.7h0.8l1.2,16.7L1110.5,884.3l1.2-5.7h0.8l1.2,5.7L1142.9,884.3l1.2-5.7h0.8l1.2,5.7L1193,884.3"/>

<!-- Right panel -->
<g font-size="26" text-anchor="middle" fill="#000">
<text x="1486.5" y="257.5">Mutation Downsampling</text>
<text x="1486.5" y="289">XPO1 (NON_SOLID)</text>
</g>
<line x1="1333" y1="300" x2="1333" y2="604" stroke="#000" stroke-width="1.5"/>
<line x1="1332.3" y1="603.3" x2="1640" y2="603.3" stroke="#000" stroke-width="1.5"/>
<g stroke="#000" stroke-width="1.3">
<line x1="1326.5" y1="305" x2="1333" y2="305"/>
<line x1="1326.5" y1="361.7" x2="1333" y2="361.7"/>
<line x1="1326.5" y1="418.3" x2="1333" y2="418.3"/>
<line x1="1326.5" y1="475" x2="1333" y2="475"/>
<line x1="1326.5" y1="531.7" x2="1333" y2="531.7"/>
<line x1="1326.5" y1="588.3" x2="1333" y2="588.3"/>
<line x1="1348.7" y1="603.3" x2="1348.7" y2="610"/>
<line x1="1495" y1="603.3" x2="1495" y2="610"/>
</g>
<g font-size="21" text-anchor="end" fill="#000">
<text x="1320" y="312.6">12.5</text>
<text x="1320" y="369.3">10.0</text>
<text x="1320" y="425.9">7.5</text>
<text x="1320" y="482.6">5.0</text>
<text x="1320" y="539.3">2.5</text>
<text x="1320" y="595.9">0.0</text>
</g>
<g font-size="21" text-anchor="middle" fill="#000">
<text x="1348.7" y="633.5">0</text>
<text x="1495" y="633.5">2000</text>
<text x="1486.5" y="658.5">no. samples</text>
</g>
<text transform="translate(1258,452.5) rotate(-90)" text-anchor="middle" font-size="21.5">no. unique mutations</text>

<!-- downsampling dots -->
<g>
<circle class="dd" cx="1348.7" cy="588.3" r="3"/><circle class="dm" cx="1363.3" cy="588.3" r="3"/>
<circle class="dd" cx="1363.3" cy="565.6" r="3"/><circle class="dm" cx="1377.8" cy="565.6" r="3"/><circle class="dl" cx="1392.4" cy="565.6" r="3"/><circle class="dv" cx="1407" cy="565.6" r="3"/>
<circle class="dd" cx="1363.3" cy="543" r="3"/><circle class="dd" cx="1377.8" cy="543" r="3"/><circle class="dm" cx="1392.4" cy="543" r="3"/><circle class="dm" cx="1407" cy="543" r="3"/><circle class="dl" cx="1421.6" cy="543" r="3"/><circle class="dv" cx="1436.1" cy="543" r="3"/><circle class="dv" cx="1450.7" cy="543" r="3"/>
<circle class="dm" cx="1363.3" cy="520.3" r="3"/><circle class="dd" cx="1377.8" cy="520.3" r="3"/><circle class="dd" cx="1392.4" cy="520.3" r="3"/><circle class="dd" cx="1407" cy="520.3" r="3"/><circle class="dm" cx="1421.6" cy="520.3" r="3"/><circle class="dl" cx="1436.1" cy="520.3" r="3"/><circle class="dv" cx="1450.7" cy="520.3" r="3"/><circle class="dl" cx="1465.3" cy="520.3" r="3"/><circle class="dv" cx="1479.8" cy="520.3" r="3"/>
<circle class="dl" cx="1363.3" cy="497.7" r="3"/><circle class="dd" cx="1377.8" cy="497.7" r="3"/><circle class="dd" cx="1392.4" cy="497.7" r="3"/><circle class="dd" cx="1407" cy="497.7" r="3"/><circle class="dm" cx="1421.6" cy="497.7" r="3"/><circle class="dm" cx="1436.1" cy="497.7" r="3"/><circle class="dm" cx="1450.7" cy="497.7" r="3"/><circle class="dl" cx="1465.3" cy="497.7" r="3"/><circle class="dv" cx="1479.8" cy="497.7" r="3"/>
<circle class="dv" cx="1363.3" cy="475" r="3"/><circle class="dm" cx="1377.8" cy="475" r="3"/><circle class="dm" cx="1392.4" cy="475" r="3"/><circle class="dm" cx="1407" cy="475" r="3"/><circle class="dm" cx="1421.6" cy="475" r="3"/><circle class="dm" cx="1436.1" cy="475" r="3"/><circle class="dm" cx="1450.7" cy="475" r="3"/><circle class="dm" cx="1465.3" cy="475" r="3"/><circle class="dm" cx="1479.8" cy="475" r="3"/><circle class="dl" cx="1494.4" cy="475" r="3"/><circle class="dv" cx="1509" cy="475" r="3"/>
<circle class="dm" cx="1392.4" cy="452.3" r="3"/><circle class="dm" cx="1407" cy="452.3" r="3"/><circle class="dd" cx="1421.6" cy="452.3" r="3"/><circle class="dd" cx="1436.1" cy="452.3" r="3"/><circle class="dm" cx="1450.7" cy="452.3" r="3"/><circle class="dm" cx="1465.3" cy="452.3" r="3"/><circle class="dm" cx="1479.8" cy="452.3" r="3"/><circle class="dm" cx="1494.4" cy="452.3" r="3"/><circle class="dm" cx="1509" cy="452.3" r="3"/><circle class="dl" cx="1523.5" cy="452.3" r="3"/>
<circle class="dl" cx="1392.4" cy="429.7" r="3"/><circle class="dm" cx="1407" cy="429.7" r="3"/><circle class="dm" cx="1421.6" cy="429.7" r="3"/><circle class="dd" cx="1436.1" cy="429.7" r="3"/><circle class="dd" cx="1450.7" cy="429.7" r="3"/><circle class="dm" cx="1465.3" cy="429.7" r="3"/><circle class="dm" cx="1479.8" cy="429.7" r="3"/><circle class="dm" cx="1494.4" cy="429.7" r="3"/><circle class="dm" cx="1509" cy="429.7" r="3"/><circle class="dm" cx="1523.5" cy="429.7" r="3"/><circle class="dv" cx="1538.1" cy="429.7" r="3"/><circle class="dl" cx="1552.7" cy="429.7" r="3"/><circle class="dv" cx="1567.3" cy="429.7" r="3"/>
<circle class="dv" cx="1392.4" cy="407" r="3"/><circle class="dv" cx="1407" cy="407" r="3"/><circle class="dl" cx="1421.6" cy="407" r="3"/><circle class="dm" cx="1436.1" cy="407" r="3"/><circle class="dm" cx="1450.7" cy="407" r="3"/><circle class="dm" cx="1465.3" cy="407" r="3"/><circle class="dd" cx="1479.8" cy="407" r="3"/><circle class="dd" cx="1494.4" cy="407" r="3"/><circle class="dm" cx="1509" cy="407" r="3"/><circle class="dm" cx="1523.5" cy="407" r="3"/><circle class="dm" cx="1538.1" cy="407" r="3"/><circle class="dl" cx="1552.7" cy="407" r="3"/><circle class="dv" cx="1567.3" cy="407" r="3"/><circle class="dv" cx="1581.8" cy="407" r="3"/>
<circle class="dv" cx="1407" cy="384.4" r="3"/><circle class="dl" cx="1436.1" cy="384.4" r="3"/><circle class="dm" cx="1450.7" cy="384.4" r="3"/><circle class="dm" cx="1465.3" cy="384.4" r="3"/><circle class="dm" cx="1479.8" cy="384.4" r="3"/><circle class="dd" cx="1494.4" cy="384.4" r="3"/><circle class="dd" cx="1509" cy="384.4" r="3"/><circle class="dm" cx="1523.5" cy="384.4" r="3"/><circle class="dm" cx="1538.1" cy="384.4" r="3"/><circle class="dm" cx="1552.7" cy="384.4" r="3"/><circle class="dm" cx="1567.3" cy="384.4" r="3"/><circle class="dm" cx="1581.8" cy="384.4" r="3"/><circle class="dl" cx="1596.4" cy="384.4" r="3"/>
<circle class="dv" cx="1450.7" cy="361.7" r="3"/><circle class="dl" cx="1465.3" cy="361.7" r="3"/><circle class="dl" cx="1479.8" cy="361.7" r="3"/><circle class="dm" cx="1494.4" cy="361.7" r="3"/><circle class="dm" cx="1509" cy="361.7" r="3"/><circle class="dm" cx="1523.5" cy="361.7" r="3"/><circle class="dd" cx="1538.1" cy="361.7" r="3"/><circle class="dm" cx="1552.7" cy="361.7" r="3"/><circle class="dm" cx="1567.3" cy="361.7" r="3"/><circle class="dm" cx="1581.8" cy="361.7" r="3"/><circle class="dm" cx="1596.4" cy="361.7" r="3"/><circle class="dl" cx="1611" cy="361.7" r="3"/>
<circle class="dv" cx="1465.3" cy="339" r="3"/><circle class="dl" cx="1479.8" cy="339" r="3"/><circle class="dl" cx="1494.4" cy="339" r="3"/><circle class="dm" cx="1509" cy="339" r="3"/><circle class="dl" cx="1523.5" cy="339" r="3"/><circle class="dm" cx="1538.1" cy="339" r="3"/><circle class="dm" cx="1552.7" cy="339" r="3"/><circle class="dm" cx="1567.3" cy="339" r="3"/><circle class="dm" cx="1581.8" cy="339" r="3"/><circle class="dm" cx="1596.4" cy="339" r="3"/><circle class="dm" cx="1611" cy="339" r="3"/>
<circle class="dv" cx="1479.8" cy="316.4" r="3"/><circle class="dv" cx="1509" cy="316.4" r="3"/><circle class="dl" cx="1523.5" cy="316.4" r="3"/><circle class="dm" cx="1538.1" cy="316.4" r="3"/><circle class="dm" cx="1552.7" cy="316.4" r="3"/><circle class="dm" cx="1567.3" cy="316.4" r="3"/><circle class="dm" cx="1581.8" cy="316.4" r="3"/><circle class="dm" cx="1596.4" cy="316.4" r="3"/><circle class="dm" cx="1611" cy="316.4" r="3"/><circle class="dd" cx="1625.5" cy="316.4" r="3"/>
</g>
<path d="M1348.7,588.3L1356,574.5L1363.3,561.5L1377.97,536.8L1392.6,514L1407.2,493L1421.9,473.6L1436.5,455.7L1451.1,439.2L1465.8,424L1480.4,410L1495,397.1L1509.7,385.2L1524.3,374.2L1538.9,364L1553.6,354.7L1568.2,346.1L1582.8,338.1L1597.5,330.8L1612.1,324L1626.7,317.8" fill="none" stroke="#8b0000" stroke-width="2.5"/>
<circle cx="1348.7" cy="588.3" r="3" fill="#8b0000"/>
</svg>
</body></html>
